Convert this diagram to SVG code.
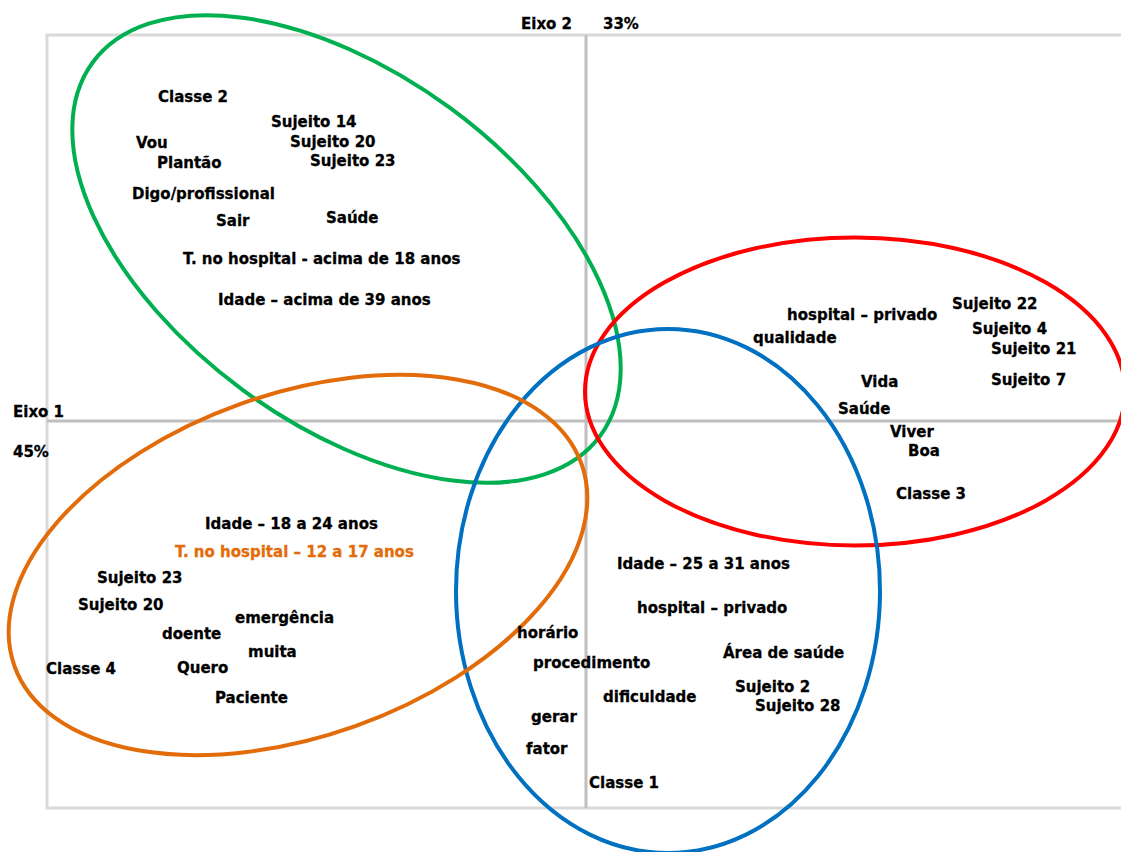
<svg xmlns="http://www.w3.org/2000/svg" width="1121" height="852" viewBox="0 0 1121 852">
<style>
text{font-family:"DejaVu Sans","Verdana",sans-serif;font-weight:bold;font-size:15px;fill:#000;stroke:#000;stroke-width:0.3px}
.or{fill:#e36c0a;stroke:#e36c0a}
.frame{stroke:#d9d9d9;stroke-width:3;fill:none}
.axis{stroke:#bfbfbf;stroke-width:3;fill:none}
.el{fill:none;stroke-width:4}
</style>
<rect width="1121" height="852" fill="#fff"/>
<g id="frame">
<path class="frame" d="M1121,35 H47 V808 H1121"/>
<path class="axis" d="M47,421 H1121 M586,35 V808"/>
</g>
<g id="ellipses">
<ellipse id="c2-ring" class="el" stroke="#00b050" cx="346.5" cy="249" rx="315" ry="175" transform="rotate(36.3 346.5 249)"/>
<ellipse id="c3-ring" class="el" stroke="#ff0000" cx="855" cy="391.5" rx="270" ry="154"/>
<ellipse id="c1-ring" class="el" stroke="#0070c0" cx="668" cy="591" rx="212" ry="262"/>
<ellipse id="c4-ring" class="el" stroke="#e36c0a" cx="298" cy="565" rx="301" ry="171" transform="rotate(-19.6 298 565)"/>
</g>
<g id="axes-labels">
<text x="521" y="29">Eixo 2</text>
<text x="603" y="29">33%</text>
<text x="13" y="417">Eixo 1</text>
<text x="13" y="457">45%</text>
</g>
<g id="classe2">
<text x="158" y="102">Classe 2</text>
<text x="271" y="127">Sujeito 14</text>
<text x="290" y="147">Sujeito 20</text>
<text x="310" y="166">Sujeito 23</text>
<text x="136" y="148">Vou</text>
<text x="157" y="168">Plantão</text>
<text x="132" y="199">Digo/profissional</text>
<text x="216" y="226">Sair</text>
<text x="326" y="223">Saúde</text>
<text x="183" y="264">T. no hospital - acima de 18 anos</text>
<text x="218" y="305">Idade – acima de 39 anos</text>
</g>
<g id="classe3">
<text x="787" y="320">hospital – privado</text>
<text x="753" y="343">qualidade</text>
<text x="952" y="309">Sujeito 22</text>
<text x="972" y="334">Sujeito 4</text>
<text x="991" y="354">Sujeito 21</text>
<text x="861" y="387">Vida</text>
<text x="991" y="385">Sujeito 7</text>
<text x="838" y="414">Saúde</text>
<text x="890" y="437">Viver</text>
<text x="908" y="456">Boa</text>
<text x="896" y="499">Classe 3</text>
</g>
<g id="classe4">
<text x="205" y="529">Idade – 18 a 24 anos</text>
<text class="or" x="175" y="557">T. no hospital – 12 a 17 anos</text>
<text x="97" y="583">Sujeito 23</text>
<text x="78" y="610">Sujeito 20</text>
<text x="235" y="623">emergência</text>
<text x="162" y="639">doente</text>
<text x="248" y="657">muita</text>
<text x="46" y="674">Classe 4</text>
<text x="177" y="673">Quero</text>
<text x="215" y="703">Paciente</text>
</g>
<g id="classe1">
<text x="617" y="569">Idade – 25 a 31 anos</text>
<text x="637" y="613">hospital – privado</text>
<text x="517" y="638">horário</text>
<text x="723" y="658">Área de saúde</text>
<text x="533" y="668">procedimento</text>
<text x="735" y="692">Sujeito 2</text>
<text x="603" y="702">dificuldade</text>
<text x="755" y="711">Sujeito 28</text>
<text x="531" y="722">gerar</text>
<text x="526" y="754">fator</text>
<text x="589" y="788">Classe 1</text>
</g>
</svg>
